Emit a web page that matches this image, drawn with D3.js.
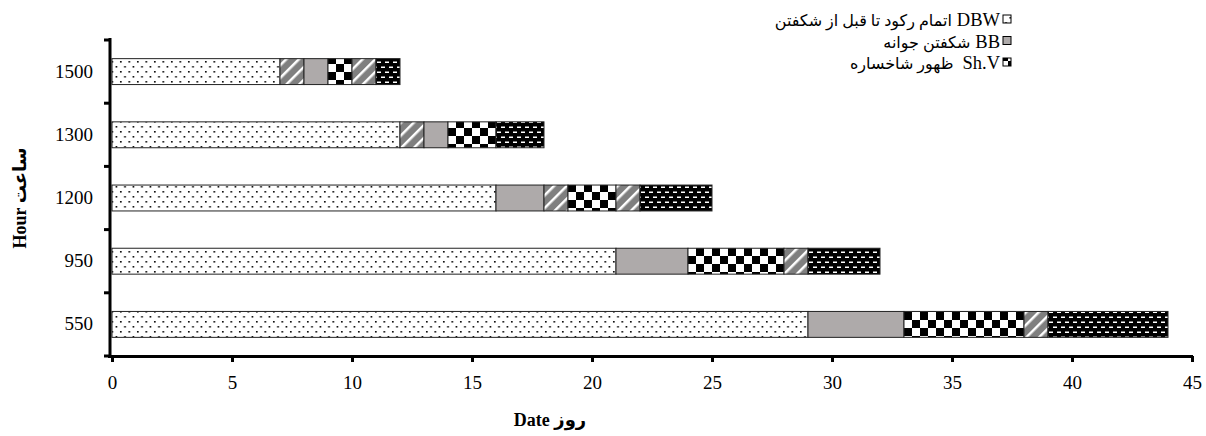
<!DOCTYPE html>
<html>
<head>
<meta charset="utf-8">
<script src="https://cdn.jsdelivr.net/npm/d3@7"></script>
<style>
  body { margin: 0; background: #fff; }
  svg { display: block; }
  text { font-family: "Liberation Serif", "Times New Roman", "DejaVu Sans", serif; fill: #000; }
</style>
</head>
<body>
<div id="chart"></div>
<script>
// ─── DATA ───
const hours = ["1500", "1300", "1200", "950", "550"];
const dbw    = [7, 12, 16, 21, 29];   // dotted
const hatchA = [1, 1, 0, 0, 0];       // hatched
const bb     = [1, 1, 2, 3, 4];       // gray
const hatchB = [0, 0, 1, 0, 0];       // hatched
const shv    = [1, 2, 2, 4, 5];       // checker
const hatchC = [1, 0, 1, 1, 1];       // hatched
const tail   = [1, 2, 3, 3, 5];       // black dashes
const xTicks = [0, 5, 10, 15, 20, 25, 30, 35, 40, 45];

const seriesKeys = ["dbw", "hatchA", "bb", "hatchB", "shv", "hatchC", "tail"];
const seriesFill = {
  dbw: "url(#p-dots)", hatchA: "url(#p-hatch)", bb: "#aeaaaa",
  hatchB: "url(#p-hatch)", shv: "url(#p-check)", hatchC: "url(#p-hatch)", tail: "url(#p-dash)"
};
// legend labels: Persian part + Latin code (drawn as two runs so the code sits at the right)
const legendItems = [
  { fa: "اتمام رکود تا قبل از شکفتن", code: "DBW", fill: "url(#p-dots)" },
  { fa: "شکفتن جوانه", code: "BB", fill: "#aeaaaa" },
  { fa: "ظهور شاخساره", code: "Sh.V", fill: "url(#p-check)", gap: 9 }
];

const rows = hours.map((h, i) => ({
  hour: h, dbw: dbw[i], hatchA: hatchA[i], bb: bb[i], hatchB: hatchB[i],
  shv: shv[i], hatchC: hatchC[i], tail: tail[i]
}));

const width = 1206, height = 436;
const margin = { top: 40, right: 14, bottom: 80, left: 112 };

const svg = d3.select("#chart").append("svg")
  .attr("width", width).attr("height", height);

// ─── PATTERNS ───
const defs = svg.append("defs");

const pDots = defs.append("pattern").attr("id", "p-dots")
  .attr("patternUnits", "userSpaceOnUse").attr("width", 8.5).attr("height", 10);
pDots.append("rect").attr("width", 8.5).attr("height", 10).attr("fill", "#fff");
pDots.append("rect").attr("x", 1).attr("y", 1).attr("width", 1.6).attr("height", 1.6).attr("fill", "#000");
pDots.append("rect").attr("x", 5.2).attr("y", 6).attr("width", 1.6).attr("height", 1.6).attr("fill", "#000");

const pHatch = defs.append("pattern").attr("id", "p-hatch")
  .attr("patternUnits", "userSpaceOnUse").attr("width", 9).attr("height", 9)
  .attr("patternTransform", "rotate(45)");
pHatch.append("rect").attr("width", 9).attr("height", 9).attr("fill", "#7f7f7f");
pHatch.append("rect").attr("x", 0).attr("y", 0).attr("width", 2.5).attr("height", 9).attr("fill", "#fff");

const pCheck = defs.append("pattern").attr("id", "p-check")
  .attr("patternUnits", "userSpaceOnUse").attr("width", 16).attr("height", 16);
pCheck.append("rect").attr("width", 16).attr("height", 16).attr("fill", "#fff");
pCheck.append("rect").attr("width", 8).attr("height", 8).attr("fill", "#000");
pCheck.append("rect").attr("x", 8).attr("y", 8).attr("width", 8).attr("height", 8).attr("fill", "#000");

const pDash = defs.append("pattern").attr("id", "p-dash")
  .attr("patternUnits", "userSpaceOnUse").attr("width", 8).attr("height", 10);
pDash.append("rect").attr("width", 8).attr("height", 10).attr("fill", "#000");
pDash.append("rect").attr("x", 1).attr("y", 1.5).attr("width", 4).attr("height", 1.5).attr("fill", "#fff");
pDash.append("rect").attr("x", 5).attr("y", 6.5).attr("width", 4).attr("height", 1.5).attr("fill", "#fff");
pDash.append("rect").attr("x", -3).attr("y", 6.5).attr("width", 4).attr("height", 1.5).attr("fill", "#fff");

// ─── SCALES ───
const x = d3.scaleLinear().domain([0, 45]).range([margin.left, width - margin.right]);
const y = d3.scaleBand().domain(hours)
  .range([margin.top, height - margin.bottom])
  .paddingInner(0.59).paddingOuter(0.295);

// ─── BARS ───
const stacked = d3.stack().keys(seriesKeys)(rows);
const layers = svg.append("g").selectAll("g").data(stacked).join("g")
  .attr("fill", d => seriesFill[d.key]);
layers.selectAll("rect")
  .data(d => d.filter(s => s[1] - s[0] > 0))
  .join("rect")
  .attr("x", d => x(d[0]))
  .attr("y", d => y(d.data.hour))
  .attr("width", d => x(d[1]) - x(d[0]))
  .attr("height", y.bandwidth())
  .attr("stroke", "#222")
  .attr("stroke-width", 1);

// ─── AXES ───
const xAxis = svg.append("g")
  .attr("transform", `translate(0,${height - margin.bottom})`)
  .call(d3.axisBottom(x).tickValues(xTicks).tickSize(6).tickSizeOuter(0).tickPadding(14));
xAxis.select(".domain").attr("stroke-width", 3).attr("d", `M${margin.left - 4},0.5H${width - margin.right + 1}`);
xAxis.selectAll(".tick line").attr("stroke-width", 3);
xAxis.selectAll(".tick text").attr("font-size", 19).attr("font-family", "Liberation Serif");

const yAxis = svg.append("g")
  .attr("transform", `translate(${margin.left - 2},0)`)
  .call(d3.axisLeft(y).tickSize(0).tickPadding(17));
yAxis.select(".domain").attr("stroke-width", 3)
  .attr("d", `M0,${margin.top - 2}V${height - margin.bottom + 2}`);
yAxis.selectAll(".tick text").attr("font-size", 19).attr("font-family", "Liberation Serif");
const yBounds = d3.range(hours.length + 1).map(i => y.range()[0] + i * y.step());
yAxis.selectAll(".bound").data(yBounds).join("line")
  .attr("class", "bound")
  .attr("x1", -6).attr("x2", 0)
  .attr("y1", d => d).attr("y2", d => d)
  .attr("stroke", "#000").attr("stroke-width", 3);

// ─── AXIS TITLES ───
svg.append("text")
  .attr("x", 550).attr("y", 426)
  .attr("text-anchor", "middle")
  .attr("font-size", 18).attr("font-weight", "bold")
  .text("Date روز");

svg.append("text")
  .attr("transform", `translate(26,${(margin.top + height - margin.bottom) / 2}) rotate(-90)`)
  .attr("text-anchor", "middle")
  .attr("font-size", 18).attr("font-weight", "bold")
  .text("Hour ساعت");

// ─── LEGEND ───
const legend = svg.append("g").attr("transform", "translate(1000,0)");
const li = legend.selectAll("g").data(legendItems).join("g")
  .attr("transform", (d, i) => `translate(0,${26 + i * 21.5})`);
li.append("text")
  .attr("class", "code")
  .attr("text-anchor", "end")
  .attr("font-size", 18.5)
  .text(d => d.code);
li.each(function(d) {
  const g = d3.select(this);
  const w = g.select(".code").node().getComputedTextLength();
  g.append("text")
    .attr("x", -w - (d.gap || 5))
    .attr("text-anchor", "end")
    .attr("font-size", 16)
    .text(d.fa);
});
li.append("rect")
  .attr("x", 3).attr("y", -11).attr("width", 8).attr("height", 8)
  .attr("fill", d => d.fill)
  .attr("stroke", "#000").attr("stroke-width", 1);
</script>
</body>
</html>
